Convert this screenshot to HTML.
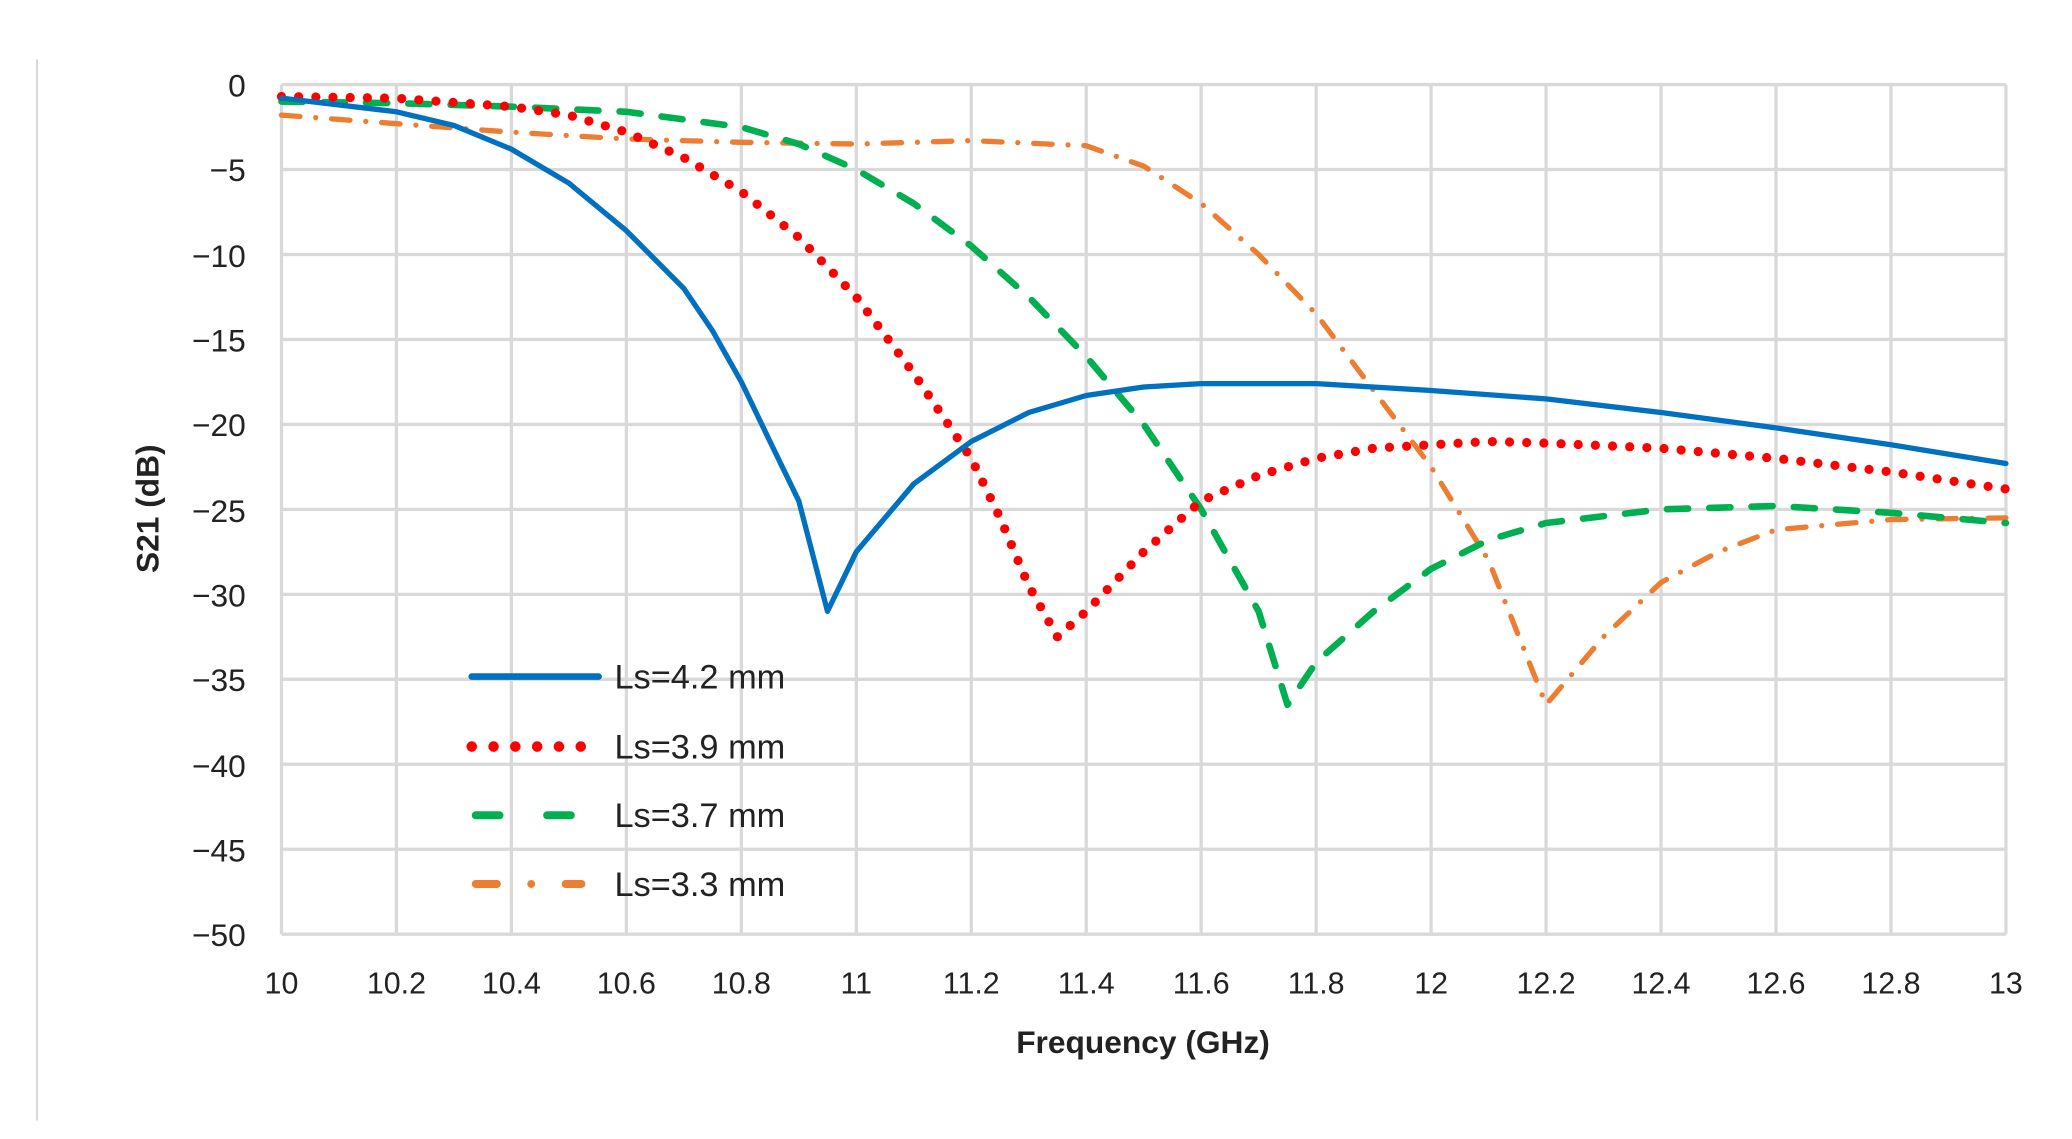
<!DOCTYPE html>
<html><head><meta charset="utf-8"><style>
html,body{margin:0;padding:0;background:#fff;}
svg{display:block;}
text{font-family:"Liberation Sans",sans-serif;fill:#222;}
</style></head><body>
<svg id="s" width="2072" height="1139" viewBox="0 0 1568 862" preserveAspectRatio="none" xmlns="http://www.w3.org/2000/svg">
<line x1="28" y1="45" x2="28" y2="848" stroke="#d9d9d9" stroke-width="1.5"/>
<g id="grid" stroke="#d9d9d9" stroke-width="2.5"></g>
<g id="curves" fill="none"></g>
<g font-size="24" text-anchor="end">
<text x="186" y="73">0</text>
<text x="186" y="137">−5</text>
<text x="186" y="202">−10</text>
<text x="186" y="266">−15</text>
<text x="186" y="330">−20</text>
<text x="186" y="395">−25</text>
<text x="186" y="459">−30</text>
<text x="186" y="523">−35</text>
<text x="186" y="588">−40</text>
<text x="186" y="652">−45</text>
<text x="186" y="716">−50</text>
</g>
<g font-size="23" text-anchor="middle">
<text x="213" y="752">10</text><text x="300" y="752">10.2</text><text x="387" y="752">10.4</text>
<text x="474" y="752">10.6</text><text x="561" y="752">10.8</text><text x="648" y="752">11</text>
<text x="735" y="752">11.2</text><text x="822" y="752">11.4</text><text x="909" y="752">11.6</text>
<text x="996" y="752">11.8</text><text x="1083" y="752">12</text><text x="1170" y="752">12.2</text>
<text x="1257" y="752">12.4</text><text x="1344" y="752">12.6</text><text x="1431" y="752">12.8</text>
<text x="1518" y="752">13</text>
</g>
<text x="865" y="797" font-size="24" font-weight="bold" text-anchor="middle">Frequency (GHz)</text>
<text transform="translate(120,385) rotate(-90)" font-size="24" font-weight="bold" text-anchor="middle">S21 (dB)</text>
<g stroke-linecap="round">
<line x1="357" y1="512" x2="453" y2="512" stroke="#0070c0" stroke-width="5"/>
<line x1="357" y1="565" x2="453" y2="565" stroke="#ff0000" stroke-width="8" stroke-dasharray="0 16.5"/>
<line x1="360" y1="617" x2="453" y2="617" stroke="#00b050" stroke-width="6" stroke-dasharray="18 36"/>
<line x1="360" y1="669" x2="440" y2="669" stroke="#ed7d31" stroke-width="6" stroke-dasharray="16 26 0 26"/>
</g>
<g font-size="26">
<text x="465" y="521">Ls=4.2 mm</text>
<text x="465" y="574">Ls=3.9 mm</text>
<text x="465" y="626">Ls=3.7 mm</text>
<text x="465" y="678">Ls=3.3 mm</text>
</g>
</svg>
<script>
var NS="http://www.w3.org/2000/svg";
function X(f){return 213+(f-10)*435;}
function Y(d){return 64+(-d)*12.86;}
var g=document.getElementById("grid");
for(var i=0;i<=15;i++){var l=document.createElementNS(NS,"line");var x=X(10+i*0.2);l.setAttribute("x1",x);l.setAttribute("x2",x);l.setAttribute("y1",64);l.setAttribute("y2",707);g.appendChild(l);}
for(var j=0;j<=10;j++){var l=document.createElementNS(NS,"line");var y=Y(-j*5);l.setAttribute("x1",213);l.setAttribute("x2",1518);l.setAttribute("y1",y);l.setAttribute("y2",y);g.appendChild(l);}
var S=[
{c:"#0070c0",w:4,d:"",p:[[10,-0.8],[10.2,-1.6],[10.3,-2.4],[10.4,-3.8],[10.5,-5.8],[10.6,-8.6],[10.7,-12],[10.75,-14.5],[10.8,-17.5],[10.85,-21],[10.9,-24.5],[10.95,-31],[11.0,-27.5],[11.1,-23.5],[11.2,-21],[11.3,-19.3],[11.4,-18.3],[11.5,-17.8],[11.6,-17.6],[11.8,-17.6],[12.0,-18],[12.2,-18.5],[12.4,-19.3],[12.6,-20.2],[12.8,-21.2],[13,-22.3]]},
{c:"#ff0000",w:7,d:"0 13",p:[[10,-0.7],[10.2,-0.8],[10.4,-1.3],[10.5,-1.8],[10.6,-2.8],[10.7,-4.3],[10.8,-6.3],[10.9,-9],[11,-12.5],[11.1,-17],[11.2,-22],[11.25,-25.5],[11.3,-29.5],[11.35,-32.5],[11.4,-31],[11.5,-27.5],[11.6,-24.5],[11.7,-23],[11.8,-22],[11.9,-21.4],[12,-21.2],[12.1,-21],[12.2,-21.1],[12.4,-21.4],[12.6,-22],[12.8,-22.8],[13,-23.8]]},
{c:"#00b050",w:5,d:"16 16",p:[[10,-1],[10.2,-1.1],[10.4,-1.3],[10.6,-1.6],[10.8,-2.5],[10.9,-3.5],[11,-5],[11.1,-7],[11.2,-9.5],[11.3,-12.5],[11.4,-16],[11.5,-20],[11.6,-25],[11.7,-31],[11.75,-36.5],[11.8,-34],[11.9,-31],[12,-28.5],[12.1,-26.8],[12.2,-25.8],[12.4,-25],[12.6,-24.8],[12.8,-25.2],[13,-25.8]]},
{c:"#ed7d31",w:4,d:"14 12 0 12",p:[[10,-1.8],[10.2,-2.3],[10.4,-2.8],[10.6,-3.2],[10.8,-3.4],[11,-3.5],[11.2,-3.3],[11.4,-3.6],[11.5,-4.8],[11.6,-7],[11.7,-10],[11.8,-13.5],[11.9,-18],[12,-22.5],[12.1,-28],[12.2,-36.5],[12.3,-32.5],[12.4,-29.3],[12.5,-27.5],[12.6,-26.2],[12.8,-25.6],[13,-25.5]]}
];
var cg=document.getElementById("curves");
S.slice().reverse().forEach(function(s){var p=document.createElementNS(NS,"path");
var d=s.p.map(function(q,i){return (i?"L":"M")+X(q[0]).toFixed(1)+" "+Y(q[1]).toFixed(1);}).join(" ");
p.setAttribute("d",d);p.setAttribute("stroke",s.c);p.setAttribute("stroke-width",s.w);p.setAttribute("stroke-linecap","round");p.setAttribute("stroke-linejoin","round");
if(s.d)p.setAttribute("stroke-dasharray",s.d);cg.appendChild(p);});
</script>
</body></html>
